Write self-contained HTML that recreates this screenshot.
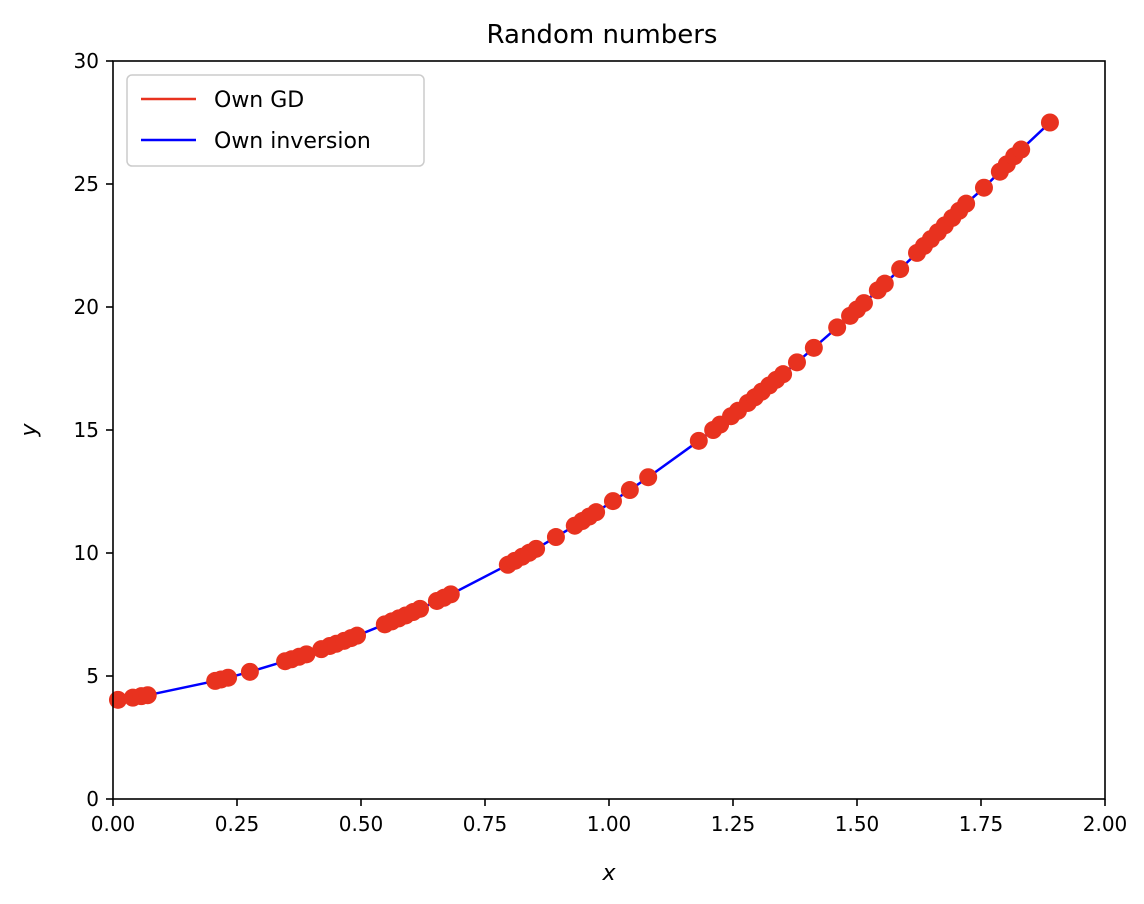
<!DOCTYPE html>
<html><head><meta charset="utf-8"><style>
body{margin:0;background:#fff;}
svg{display:block;font-family:"DejaVu Sans","Liberation Sans",sans-serif;}
</style></head><body>
<svg id="chart" width="1144" height="904">
<text x="602" y="43" text-anchor="middle" font-size="26" fill="#000">Random numbers</text>
<g id="ticks"></g>
<polyline id="line" fill="none" stroke="#0000ff" stroke-width="2.5"/>
<g id="pts"></g>
<rect x="113" y="61" width="992" height="738" fill="none" stroke="#000" stroke-width="1.6"/>
<text x="609" y="880" text-anchor="middle" font-size="22" font-style="italic">x</text>
<text x="0" y="0" transform="translate(36,430) rotate(-90)" text-anchor="middle" font-size="22" font-style="italic">y</text>
<g>
<rect x="127" y="75" width="297" height="91" rx="5" fill="#fff" stroke="#ccc" stroke-width="1.5"/>
<line x1="141" y1="99" x2="196" y2="99" stroke="#e8321f" stroke-width="2.5"/>
<text x="214" y="107" font-size="22">Own GD</text>
<line x1="141" y1="140" x2="196" y2="140" stroke="#0000ff" stroke-width="2.5"/>
<text x="214" y="148" font-size="22">Own inversion</text>
</g>
</svg>
<script>
const xTicks=[0,0.25,0.5,0.75,1.0,1.25,1.5,1.75,2.0];
const xTickLabels=["0.00","0.25","0.50","0.75","1.00","1.25","1.50","1.75","2.00"];
const yTicks=[0,5,10,15,20,25,30];
const yTickLabels=["0","5","10","15","20","25","30"];
const xs=[0.01,0.04,0.057,0.07,0.206,0.218,0.232,0.276,0.347,0.36,0.375,0.39,0.42,0.437,0.45,0.466,0.48,0.492,0.548,0.562,0.576,0.59,0.605,0.619,0.653,0.667,0.681,0.796,0.81,0.825,0.839,0.853,0.893,0.931,0.946,0.96,0.974,1.008,1.042,1.079,1.181,1.21,1.224,1.246,1.26,1.28,1.294,1.308,1.323,1.337,1.351,1.379,1.413,1.46,1.486,1.5,1.514,1.542,1.556,1.587,1.621,1.635,1.649,1.663,1.677,1.692,1.706,1.72,1.756,1.788,1.802,1.817,1.831,1.889];
const ys=[4.03,4.12,4.18,4.22,4.80,4.86,4.93,5.17,5.60,5.68,5.78,5.88,6.09,6.22,6.31,6.43,6.54,6.64,7.10,7.22,7.34,7.46,7.60,7.73,8.05,8.18,8.32,9.52,9.68,9.85,10.01,10.17,10.65,11.11,11.30,11.48,11.66,12.11,12.56,13.08,14.56,15.00,15.22,15.56,15.78,16.10,16.33,16.56,16.81,17.04,17.27,17.75,18.34,19.17,19.64,19.90,20.16,20.68,20.95,21.54,22.20,22.48,22.76,23.04,23.32,23.62,23.91,24.20,24.85,25.50,25.80,26.13,26.40,27.5];
const NS="http://www.w3.org/2000/svg";
const X=v=>113+v/2*992, Y=v=>799-v/30*738;
const tg=document.getElementById('ticks');
function mk(t,a){const e=document.createElementNS(NS,t);for(const k in a)e.setAttribute(k,a[k]);return e;}
xTicks.forEach((v,i)=>{
 const l=mk('line',{x1:X(v),x2:X(v),y1:799,y2:806,stroke:'#000','stroke-width':1.6});
 
 
 tg.appendChild(l);
 const t=mk('text',{x:X(v),y:831,'text-anchor':'middle','font-size':20});
 
 
 t.textContent=xTickLabels[i];tg.appendChild(t);
});
yTicks.forEach((v,i)=>{
 const l=mk('line',{x1:106,x2:113,y1:Y(v),y2:Y(v),stroke:'#000','stroke-width':1.6});
 
 
 tg.appendChild(l);
 const t=mk('text',{x:99,y:Y(v)+7,'text-anchor':'end','font-size':20});
 
 
 t.textContent=yTickLabels[i];tg.appendChild(t);
});
document.getElementById('line').setAttribute('points',xs.map((v,i)=>X(v)+','+Y(ys[i])).join(' '));
const pg=document.getElementById('pts');
xs.forEach((v,i)=>{
 const c=mk('circle',{cx:X(v),cy:Y(ys[i]),r:9,fill:'#e8321f'});
 
 
 pg.appendChild(c);
});
</script>
</body></html>
